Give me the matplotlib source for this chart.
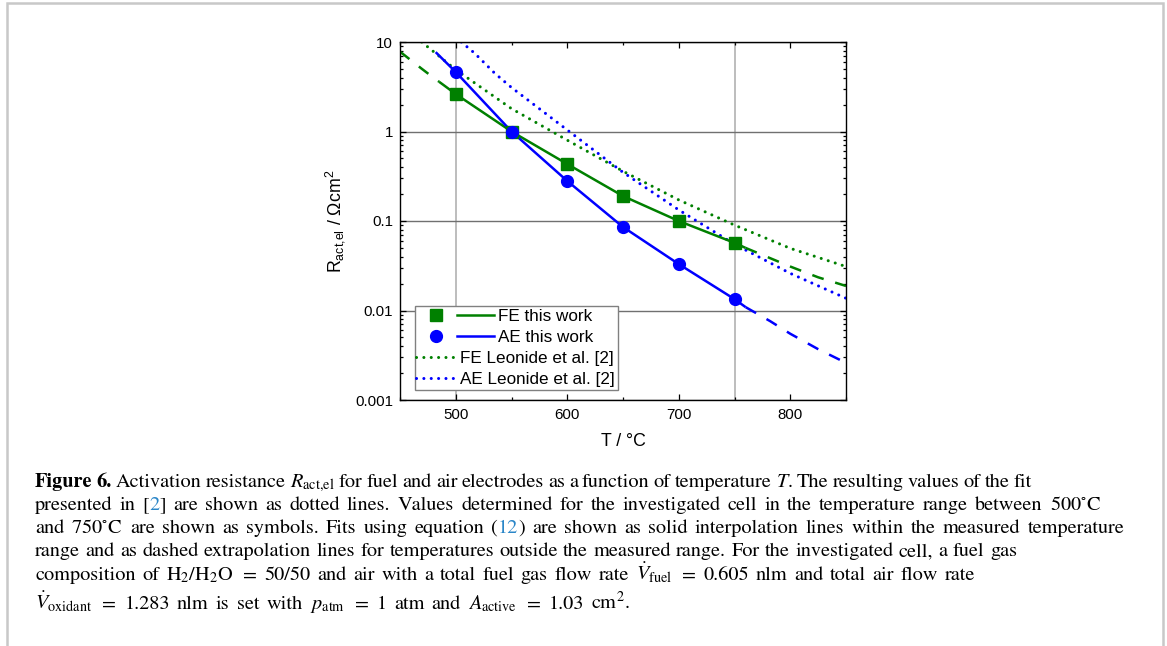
import numpy as np
import matplotlib
matplotlib.use("Agg")
import matplotlib.pyplot as plt
from matplotlib.ticker import MultipleLocator, LogLocator, FuncFormatter, NullFormatter
from matplotlib.legend_handler import HandlerTuple
from matplotlib.lines import Line2D
from matplotlib.patches import Rectangle

plt.rcParams['font.family'] = ['Liberation Sans', 'DejaVu Sans']
plt.rcParams['mathtext.fontset'] = 'custom'
plt.rcParams['mathtext.rm'] = 'Liberation Sans'
plt.rcParams['mathtext.it'] = 'Liberation Sans:italic'

# measured values (symbols)
temps = [500, 550, 600, 650, 700, 750]
fe_meas = [2.62, 1.0, 0.433, 0.19, 0.10, 0.057]
ae_meas = [4.62, 1.0, 0.28, 0.0857, 0.033, 0.0134]

# fits with eq. (12)
fe_fit_T = [450, 469, 478, 485, 489, 500, 550, 600, 650, 700, 750, 760, 773, 800, 825, 850]
fe_fit_R = [7.8, 5.08, 4.17, 3.6, 3.31, 2.62, 1.0, 0.433, 0.19, 0.10, 0.057, 0.050, 0.0428, 0.031, 0.0235, 0.0188]
ae_fit_T = [482, 485, 500, 550, 600, 650, 700, 750, 760, 782, 800, 825, 850]
ae_fit_R = [7.7, 7.07, 4.62, 1.0, 0.28, 0.0857, 0.033, 0.0134, 0.0109, 0.0076, 0.0055, 0.0037, 0.0026]
interp_range = (485, 760)

# Leonide et al. [2]
fe_leo_T = [469.5, 500, 550, 600, 650, 700, 750, 800, 850]
fe_leo_R = [10, 4.9, 1.8, 0.80, 0.36, 0.172, 0.090, 0.0495, 0.031]
ae_leo_T = [505, 517, 535, 550, 600, 650, 700, 750, 800, 850]
ae_leo_R = [10, 7.48, 4.47, 3.1, 1.04, 0.35, 0.133, 0.055, 0.026, 0.0137]

labels = ['FE this work', 'AE this work', 'FE Leonide et al. [2]', 'AE Leonide et al. [2]']
green = '#008000'
blue = '#0000ff'

W, H = 1167, 646
fig = plt.figure(figsize=(W / 100, H / 100), dpi=100)
ax = fig.add_axes([400 / W, 1 - 400 / H, 446 / W, 358 / H])

dotted = dict(ls=(0, (0.01, 2.4)), lw=2.2, dash_capstyle='round')
dashed = dict(ls=(0, (4.8, 4.8)), lw=1.8)


def plot_fit(T, R, color):
    T = np.array(T)
    R = np.array(R)
    lo = T <= interp_range[0]
    hi = T >= interp_range[1]
    mid = (T >= interp_range[0]) & (T <= interp_range[1])
    if lo.sum() > 1:
        ax.plot(T[lo], R[lo], color=color, **dashed)
    ax.plot(T[hi], R[hi], color=color, **dashed)
    ax.plot(T[mid], R[mid], color=color, lw=1.8, solid_capstyle='butt')


ax.plot(fe_leo_T, fe_leo_R, color=green, **dotted)
ax.plot(ae_leo_T, ae_leo_R, color=blue, **dotted)
plot_fit(fe_fit_T, fe_fit_R, green)
plot_fit(ae_fit_T, ae_fit_R, blue)
ax.plot(temps, fe_meas, 's', color=green, ms=8, zorder=4)
ax.plot(temps, ae_meas, 'o', color=blue, ms=8.5, zorder=4)

for t in (temps[0], temps[-1]):
    ax.axvline(t, color='#b8b8b8', lw=1.3, zorder=0.5)

ax.set_yscale('log')
ax.set_xlim(450, 850)
ax.set_ylim(0.001, 10)
ax.yaxis.grid(True, which='major', color='#707070', lw=1.0)
ax.set_axisbelow(True)
ax.xaxis.set_major_locator(MultipleLocator(100))
ax.xaxis.set_minor_locator(MultipleLocator(50))
ax.yaxis.set_major_locator(LogLocator(base=10))
ax.yaxis.set_minor_locator(LogLocator(base=10, subs=np.arange(2, 10)))
ax.yaxis.set_minor_formatter(NullFormatter())
ax.yaxis.set_major_formatter(FuncFormatter(lambda v, _: f'{v:g}'))
ax.tick_params(which='both', direction='in', top=True, right=True, labelsize=10.8, width=0.9)
ax.tick_params(which='major', length=4)
ax.tick_params(which='minor', length=2.5)
ax.tick_params(axis='x', pad=6)
ax.tick_params(axis='y', pad=5)
for s in ax.spines.values():
    s.set_linewidth(1.0)

ax.set_xlabel('T / °C', fontsize=12.8, labelpad=8)
ax.set_ylabel(r'R$_{\mathrm{act{,}el}}$ / Ωcm$^{2}$', fontsize=12.8)
ax.yaxis.set_label_coords(-0.118, 0.5)

# legend: symbol + line entries, then dotted entries
h_fe = (Line2D([], [], marker='s', color=green, ls='none', ms=8), Line2D([], [], color=green, lw=1.8))
h_ae = (Line2D([], [], marker='o', color=blue, ls='none', ms=8.5), Line2D([], [], color=blue, lw=1.8))
leg1 = ax.legend([h_fe, h_ae], labels[:2], handler_map={tuple: HandlerTuple(ndivide=None, pad=0.12)},
                 loc='upper left', bbox_to_anchor=(0.0404, 0.2542), bbox_transform=ax.transAxes,
                 frameon=False, borderpad=0, borderaxespad=0, handlelength=4.44,
                 handletextpad=0.23, labelspacing=0.34, fontsize=12.3)
ax.add_artist(leg1)
h_fl = Line2D([], [], color=green, **dotted)
h_al = Line2D([], [], color=blue, **dotted)
leg2 = ax.legend([h_fl, h_al], labels[2:], loc='upper left', bbox_to_anchor=(0.0359, 0.137),
                 bbox_transform=ax.transAxes, frameon=False, borderpad=0, borderaxespad=0,
                 handlelength=2.4, handletextpad=0.18, labelspacing=0.34, fontsize=12.3)

fig.add_artist(Rectangle((7 / W, -0.1), 1156 / W, 1.1 - 3 / H, transform=fig.transFigure,
                         fill=False, edgecolor='#c8c8c8', lw=1.8))

fig.canvas.draw()
renderer = fig.canvas.get_renderer()
b1 = leg1.get_window_extent(renderer)
b2 = leg2.get_window_extent(renderer)
x0 = min(b1.x0, b2.x0) - 1.5
x1 = max(b1.x1, b2.x1) + 3
y0 = min(b1.y0, b2.y0) - 3
y1 = max(b1.y1, b2.y1) + 3
inv = ax.transAxes.inverted()
(ax0, ay0), (ax1, ay1) = inv.transform([(x0, y0), (x1, y1)])
ax.add_patch(Rectangle((ax0, ay0), ax1 - ax0, ay1 - ay0, transform=ax.transAxes,
                       facecolor='white', edgecolor='#808080', lw=1.0, zorder=4.5))

# caption
caption_lines = [
    [("Figure 6.", 'bold'),
     (" Activation resistance $R_{\\mathrm{act{,}el}}$ for fuel and air electrodes as a function of temperature $T$. The resulting values of the fit", 'normal')],
    [("presented in [", 'normal'), ("2", 'link'),
     ("] are shown as dotted lines. Values determined for the investigated cell in the temperature range between 500$^{\\circ}$C", 'normal')],
    [("and 750$^{\\circ}$C are shown as symbols. Fits using equation (", 'normal'), ("12", 'link'),
     (") are shown as solid interpolation lines within the measured temperature", 'normal')],
    [("range and as dashed extrapolation lines for temperatures outside the measured range. For the investigated cell, a fuel gas", 'normal')],
    [("composition of H$_2$/H$_2$O $=$ 50/50 and air with a total fuel gas flow rate $\\dot{V}_{\\mathrm{fuel}}$ $=$ 0.605 nlm and total air flow rate", 'normal')],
    [("$\\dot{V}_{\\mathrm{oxidant}}$ $=$ 1.283 nlm is set with $p_{\\mathrm{atm}}$ $=$ 1 atm and $A_{\\mathrm{active}}$ $=$ 1.03 cm$^2$.", 'normal')],
]
caption_baselines = [487, 510, 533, 556, 580, 609]
caption_right = [1032, 1138, 1133, 1017, 975, 640]
caption_left = 35
cap_style = dict(va='baseline', ha='left', fontsize=14.6, family='STIXGeneral', math_fontfamily='stix')

probe1 = fig.text(0, 0, 'a a', **cap_style)
probe2 = fig.text(0, 0, 'aa', **cap_style)
space_w = probe1.get_window_extent(renderer).width - probe2.get_window_extent(renderer).width
probe1.remove()
probe2.remove()

for base, right, segs in zip(caption_baselines, caption_right, caption_lines):
    # split into words; gap marks a space before the word
    pieces = []
    for txt, style in segs:
        words = txt.split(' ')
        for i, w in enumerate(words):
            if w == '':
                continue
            gap = i > 0 or (len(pieces) > 0 and txt.startswith(' '))
            pieces.append((w, style, gap))
    arts = []
    widths = []
    for w, style, gap in pieces:
        t = fig.text(0, 1 - base / H, w, weight='bold' if style == 'bold' else 'normal',
                     color='#2a86c8' if style == 'link' else 'black', **cap_style)
        arts.append(t)
        widths.append(t.get_window_extent(renderer).width)
    n_gaps = sum(1 for p in pieces if p[2])
    extra = (right - caption_left - sum(widths)) / max(n_gaps, 1) - space_w
    space = space_w + min(max(extra, -1.0), 2.0)
    x = caption_left
    for t, wd, (w, style, gap) in zip(arts, widths, pieces):
        if gap:
            x += space
        t.set_x(x / W)
        x += wd

fig.savefig('out.png', dpi=100)
